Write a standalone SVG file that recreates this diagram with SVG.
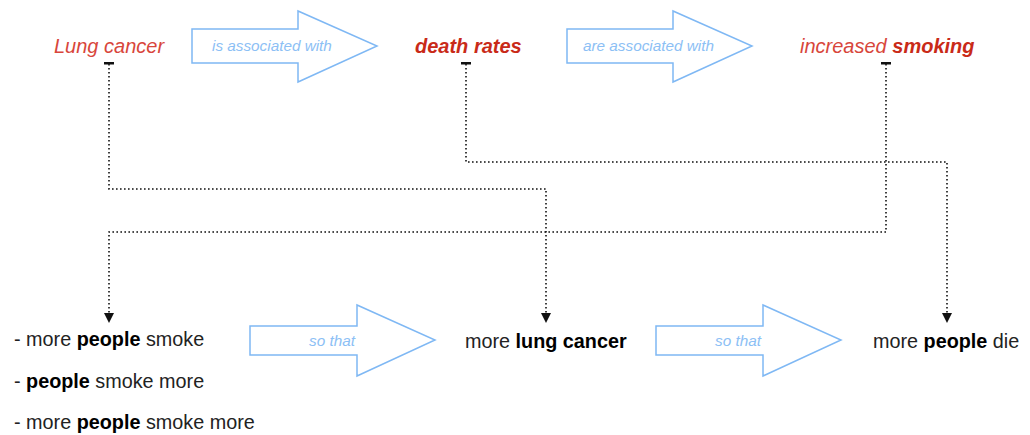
<svg xmlns="http://www.w3.org/2000/svg" width="1030" height="435" viewBox="0 0 1030 435">
<style>
.red{font-family:"Liberation Sans",Arial,sans-serif;font-size:20px;font-style:italic;fill:#d8463b}
.redb{font-weight:bold;fill:#c92a18}
.lbl{font-family:"Liberation Sans",Arial,sans-serif;font-size:15.3px;font-style:italic;fill:#8cc0f5}
.blk{font-family:"Liberation Sans",Arial,sans-serif;font-size:19.8px;fill:#222}
.b{font-weight:bold;fill:#000}
.arrow{fill:#fff;stroke:#7fb8f4;stroke-width:1.5;stroke-linejoin:miter}
.con{fill:none;stroke:#111;stroke-width:1.6;stroke-dasharray:1.6 2.4}
</style>
<defs>
<marker id="head" markerUnits="userSpaceOnUse" markerWidth="10" markerHeight="10" refX="0" refY="5" orient="auto" viewBox="0 0 10 10">
<path d="M0,0 L10,5 L0,10 Z" fill="#111"/>
</marker>
</defs>

<g id="connectors">
<path class="con" d="M109,64 V189 H546 V313" marker-end="url(#head)"/>
<path class="con" d="M466,64 V162 H947 V313" marker-end="url(#head)"/>
<path class="con" d="M886,64 V232 H109 V313" marker-end="url(#head)"/>
<rect x="104" y="62" width="10" height="2.5" fill="#111"/>
<rect x="461" y="62" width="10" height="2.5" fill="#111"/>
<rect x="881" y="62" width="10" height="2.5" fill="#111"/>
</g>

<g id="lung-cancer">
<text class="red" x="54" y="53">Lung cancer</text>
</g>
<g id="arrow-is-associated">
<path class="arrow" d="M192,29 H298 V11 L377,46 L298,82 V63 H192 Z"/>
<text class="lbl" x="212" y="51">is associated with</text>
</g>
<g id="death-rates">
<text class="red redb" x="415" y="53">death rates</text>
</g>
<g id="arrow-are-associated">
<path class="arrow" d="M567,29 H673 V11 L752,46 L673,82 V63 H567 Z"/>
<text class="lbl" x="583" y="51">are associated with</text>
</g>
<g id="increased-smoking">
<text class="red" x="800" y="53">increased <tspan class="redb">smoking</tspan></text>
</g>

<g id="people-smoke">
<text class="blk" x="14" y="346">- more <tspan class="b">people</tspan> smoke</text>
<text class="blk" x="14" y="388">- <tspan class="b">people</tspan> smoke more</text>
<text class="blk" x="14" y="429">- more <tspan class="b">people</tspan> smoke more</text>
</g>
<g id="arrow-so-that-1">
<path class="arrow" d="M250,326 H357 V305 L435,340 L357,376 V355 H250 Z"/>
<text class="lbl" x="309" y="346">so that</text>
</g>
<g id="more-lung-cancer">
<text class="blk" x="465" y="348">more <tspan class="b">lung cancer</tspan></text>
</g>
<g id="arrow-so-that-2">
<path class="arrow" d="M656,326 H763 V305 L841,340 L763,376 V355 H656 Z"/>
<text class="lbl" x="715" y="346">so that</text>
</g>
<g id="more-people-die">
<text class="blk" x="873" y="348">more <tspan class="b">people</tspan> die</text>
</g>
</svg>
